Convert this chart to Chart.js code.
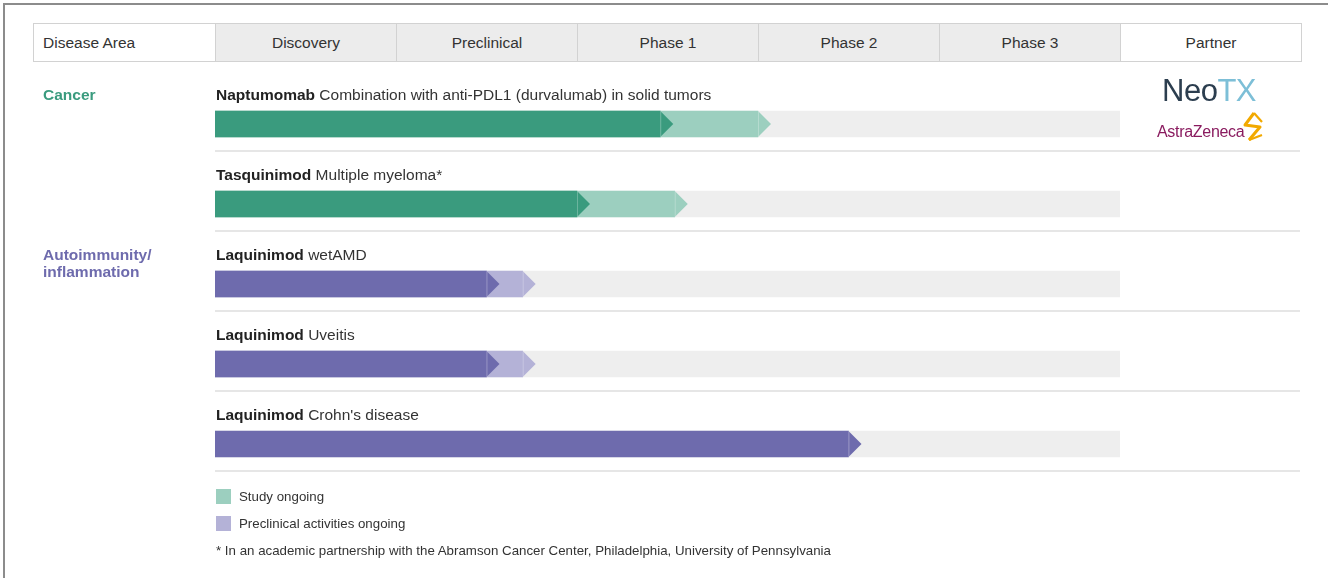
<!DOCTYPE html>
<html>
<head>
<meta charset="utf-8">
<script src="https://cdn.jsdelivr.net/npm/chart.js@4.4.1/dist/chart.umd.min.js"></script>
<style>
  html, body { margin: 0; padding: 0; background: #fff; }
  body { width: 1328px; height: 578px; position: relative; overflow: hidden;
         font-family: 'Liberation Sans', Arial, sans-serif; color: #333; }
  #frame { position: absolute; left: 3px; top: 3px; width: 1400px; height: 700px;
           border-top: 2px solid #8c8c8c; border-left: 2px solid #8c8c8c; }
  #chart { position: absolute; left: 0; top: 0; }
  #header { position: absolute; left: 33px; top: 23px; display: flex; height: 39px;
            border: 1px solid #d2d2d2; box-sizing: border-box; }
  #header div { width: 181px; box-sizing: border-box; border-left: 1px solid #d2d2d2;
                background: #ececec; font-size: 15.5px; line-height: 38px; text-align: center; color: #333; }
  #header div:first-child { border-left: none; background: #fff; text-align: left; padding-left: 9px; }
  #header div:last-child { background: #fff; }
  .logo { position: absolute; }
  #neotx { left: 1162px; top: 73px; font-family: 'Liberation Sans', Arial, sans-serif;
           font-size: 31px; letter-spacing: -0.5px; color: #2c3e4f; }
  #neotx span { color: #7dbfd7; }
  #az { left: 1157px; top: 123px; font-size: 16px; color: #8a1b5f; letter-spacing: -0.3px; }
  #azmark { left: 1240px; top: 111px; }
  #legend { position: absolute; left: 216px; top: 489px; font-size: 13.3px; color: #333; }
  .item { height: 15px; margin-bottom: 12px; display: flex; align-items: center; }
  .sw { width: 15px; height: 15px; margin-right: 8px; }
  #note { position: absolute; left: 216px; top: 543px; font-size: 13.3px; color: #333; }
</style>
</head>
<body>
<div id="frame"></div>
<canvas id="chart" width="1328" height="578"></canvas>
<div id="header"></div>
<div class="logo" id="neotx">Neo<span>TX</span></div>
<div class="logo" id="az">AstraZeneca</div>
<svg class="logo" id="azmark" width="28" height="32" viewBox="0 0 28 32">
  <path d="M14 2 L5 14 L20 16 L9 29" fill="none" stroke="#f2a900" stroke-width="3" stroke-linejoin="round"/>
  <path d="M14 2 L22 11 M9 29 L22 24" fill="none" stroke="#f2a900" stroke-width="2.2"/>
</svg>
<div id="legend"></div>
<div id="note">* In an academic partnership with the Abramson Cancer Center, Philadelphia, University of Pennsylvania</div>
<script>
const phases = ['Discovery', 'Preclinical', 'Phase 1', 'Phase 2', 'Phase 3'];
const drugs = ['Naptumomab', 'Tasquinimod', 'Laquinimod', 'Laquinimod', 'Laquinimod'];
const indications = ['Combination with anti-PDL1 (durvalumab) in solid tumors', 'Multiple myeloma*', 'wetAMD', 'Uveitis', "Crohn's disease"];
const rowArea = ['cancer', 'cancer', 'autoimmune', 'autoimmune', 'autoimmune'];
// progress measured in phase units (0 = start of Discovery, 5 = end of Phase 3)
const completed = [2.46, 2.0, 1.5, 1.5, 3.5];
const ongoing = [3.0, 2.54, 1.7, 1.7, null];
const fullTrack = [5, 5, 5, 5, 5];
const legendLabels = ['Study ongoing', 'Preclinical activities ongoing'];

const areas = {
  cancer: { title: ['Cancer'], dark: '#3a9b7e', light: '#9ccfbf' },
  autoimmune: { title: ['Autoimmunity/', 'inflammation'], dark: '#6e6bad', light: '#b4b2d7' }
};

const FONT = '"Liberation Sans", Arial, sans-serif';

// header cells
const header = document.getElementById('header');
['Disease Area', ...phases, 'Partner'].forEach(t => {
  const d = document.createElement('div');
  d.textContent = t;
  header.appendChild(d);
});

// legend
const legend = document.getElementById('legend');
[areas.cancer.light, areas.autoimmune.light].forEach((c, i) => {
  legend.insertAdjacentHTML('beforeend',
    `<div class="item"><div class="sw" style="background:${c}"></div>${legendLabels[i]}</div>`);
});

const arrowTips = {
  id: 'arrowTips',
  afterDatasetDraw(chart, args) {
    if (args.index === 2) return;
    const ctx = chart.ctx;
    const ds = chart.data.datasets[args.index];
    args.meta.data.forEach((el, i) => {
      if (ds.data[i] == null) return;
      const h = el.height;
      ctx.save();
      ctx.fillStyle = ds.backgroundColor[i];
      ctx.beginPath();
      ctx.moveTo(el.x, el.y - h / 2);
      ctx.lineTo(el.x + h / 2, el.y);
      ctx.lineTo(el.x, el.y + h / 2);
      ctx.closePath();
      ctx.fill();
      ctx.strokeStyle = 'rgba(255,255,255,0.25)';
      ctx.lineWidth = 1;
      ctx.beginPath();
      ctx.moveTo(el.x + 0.5, el.y - h / 2);
      ctx.lineTo(el.x + 0.5, el.y + h / 2);
      ctx.stroke();
      ctx.restore();
    });
  }
};

const rowText = {
  id: 'rowText',
  afterDraw(chart) {
    const ctx = chart.ctx;
    const y = chart.scales.y;
    const x0 = chart.chartArea.left;
    ctx.save();
    ctx.textBaseline = 'middle';
    drugs.forEach((d, i) => {
      const cy = y.getPixelForValue(i);
      ctx.font = 'bold 15.5px ' + FONT;
      ctx.fillStyle = '#222';
      ctx.fillText(d, x0 + 1, cy - 28);
      const w = ctx.measureText(d + ' ').width;
      ctx.font = '15.5px ' + FONT;
      ctx.fillStyle = '#333';
      ctx.fillText(indications[i], x0 + 1 + w, cy - 28);
      // separator
      ctx.strokeStyle = '#dedede';
      ctx.lineWidth = 1.5;
      ctx.beginPath();
      ctx.moveTo(x0, Math.round(cy + 27));
      ctx.lineTo(1300, Math.round(cy + 27));
      ctx.stroke();
      // disease area title on the first row of each area
      if (i === 0 || rowArea[i] !== rowArea[i - 1]) {
        const a = areas[rowArea[i]];
        ctx.font = 'bold 15.5px ' + FONT;
        ctx.fillStyle = a.dark;
        a.title.forEach((t, k) => ctx.fillText(t, 43, cy - 28 + k * 17));
      }
    });
    ctx.restore();
  }
};

new Chart(document.getElementById('chart'), {
  type: 'bar',
  data: {
    labels: drugs.map((d, i) => d + ' ' + indications[i]),
    datasets: [
      { data: completed, backgroundColor: rowArea.map(a => areas[a].dark) },
      { data: ongoing, backgroundColor: rowArea.map(a => areas[a].light) },
      { data: fullTrack, backgroundColor: rowArea.map(() => '#eeeeee') }
    ]
  },
  options: {
    indexAxis: 'y',
    responsive: false,
    animation: false,
    layout: { padding: { left: 215, right: 208, top: 84, bottom: 94 } },
    datasets: { bar: { grouped: false, barThickness: 26, borderWidth: 0 } },
    scales: {
      x: { type: 'linear', min: 0, max: 5, display: false },
      y: { display: false }
    },
    plugins: { legend: { display: false }, tooltip: { enabled: false } }
  },
  plugins: [arrowTips, rowText]
});
</script>
</body>
</html>
